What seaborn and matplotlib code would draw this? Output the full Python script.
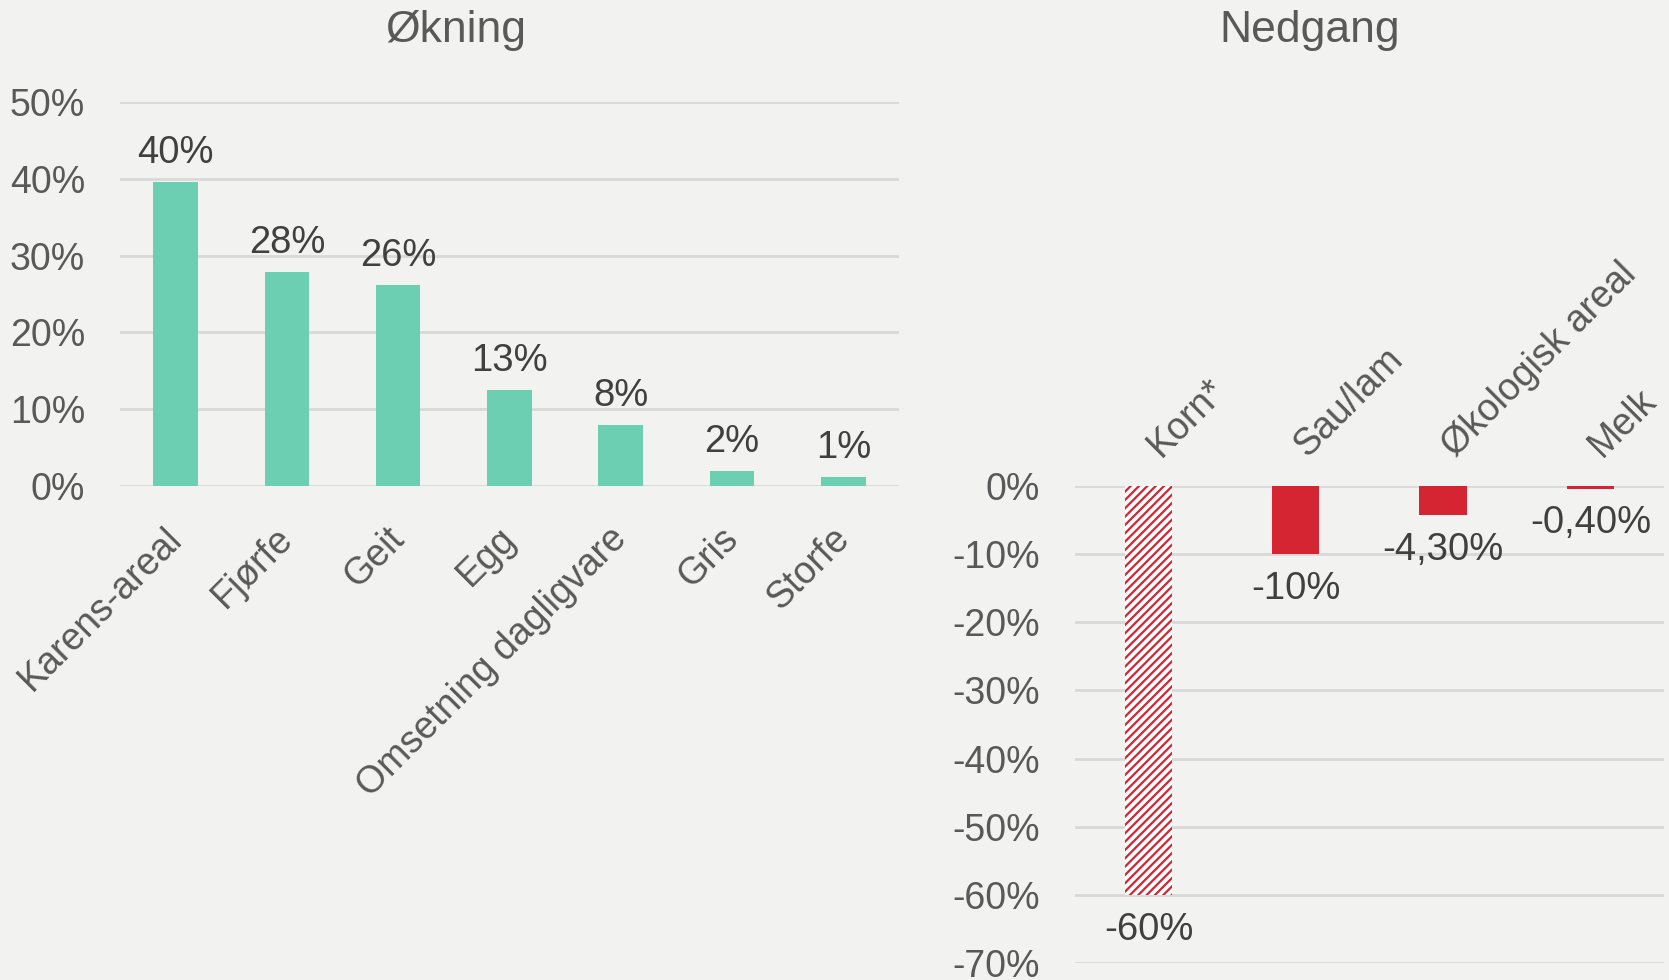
import matplotlib
matplotlib.use("Agg")
import matplotlib.pyplot as plt
import matplotlib.transforms as mtransforms
import seaborn as sns
import pandas as pd

# ---- data ----
inc_categories = ["Karens-areal", "Fjørfe", "Geit", "Egg", "Omsetning dagligvare", "Gris", "Storfe"]
inc_values = [39.6, 27.8, 26.2, 12.5, 7.9, 1.9, 1.2]
inc_labels = ["40%", "28%", "26%", "13%", "8%", "2%", "1%"]

dec_categories = ["Korn*", "Sau/lam", "Økologisk areal", "Melk"]
dec_values = [-60, -10, -4.3, -0.4]
dec_labels = ["-60%", "-10%", "-4,30%", "-0,40%"]

inc_ticks = [0, 10, 20, 30, 40, 50]
dec_ticks = [0, -10, -20, -30, -40, -50, -60, -70]

BG = "#F2F2F1"
TEAL = "#6DCFB1"
RED = "#D52432"
GRID = "#D9D9D9"
TICK = "#595959"
LAB = "#404040"

sns.set_theme(style="white")
plt.rcParams["font.family"] = ["Liberation Sans", "DejaVu Sans"]
plt.rcParams["hatch.linewidth"] = 1.6
plt.rcParams["hatch.color"] = RED

fig = plt.figure(figsize=(16.69, 9.8), dpi=100, facecolor=BG)
ax1 = fig.add_axes([0.0719, 0.504, 0.4667, 0.392])
ax2 = fig.add_axes([0.644, 0.0173, 0.353, 0.4867])
for ax in (ax1, ax2):
    ax.set_facecolor(BG)
    for s in ax.spines.values():
        s.set_visible(False)

df1 = pd.DataFrame({"cat": inc_categories, "val": inc_values})
sns.barplot(data=df1, x="cat", y="val", color=TEAL, width=0.4, ax=ax1, saturation=1,
            linewidth=0, zorder=3)
ax1.set_ylim(0, 50)
ax1.set_yticks(inc_ticks)
ax1.set_yticklabels([f"{t}%" for t in inc_ticks])
ax1.yaxis.grid(True, color=GRID, linewidth=2, zorder=0)
ax1.set_axisbelow(True)
ax1.set_xlabel("")
ax1.set_ylabel("")
ax1.tick_params(axis="y", labelsize=27, colors=TICK, length=0, pad=25)
ax1.tick_params(axis="x", labelsize=27, colors=TICK, length=0, pad=22)
off1 = mtransforms.ScaledTranslation(-12 / 100, -4 / 100, fig.dpi_scale_trans)
for lbl in ax1.get_xticklabels():
    lbl.set_rotation(45)
    lbl.set_ha("right")
    lbl.set_rotation_mode("anchor")
    lbl.set_transform(lbl.get_transform() + off1)
for p, t, v in zip(ax1.patches, inc_labels, inc_values):
    ax1.annotate(t, (p.get_x() + p.get_width() / 2, v),
                 xytext=(0, 8), textcoords="offset points", ha="center", va="bottom",
                 fontsize=27.5, color=LAB)

df2 = pd.DataFrame({"cat": dec_categories, "val": dec_values})
sns.barplot(data=df2, x="cat", y="val", color=RED, width=0.32, ax=ax2, saturation=1,
            linewidth=0, zorder=3)
ax2.set_ylim(-70, 0)
ax2.set_yticks(dec_ticks)
ax2.set_yticklabels([f"{t}%" for t in dec_ticks])
ax2.yaxis.grid(True, color=GRID, linewidth=2, zorder=0)
ax2.set_axisbelow(True)
ax2.set_xlabel("")
ax2.set_ylabel("")
ax2.xaxis.tick_top()
ax2.tick_params(axis="y", labelsize=27, colors=TICK, length=0, pad=25)
ax2.tick_params(axis="x", labelsize=27, colors=TICK, length=0, pad=20)
off2 = mtransforms.ScaledTranslation(12 / 100, 0, fig.dpi_scale_trans)
for lbl in ax2.get_xticklabels():
    lbl.set_rotation(45)
    lbl.set_ha("left")
    lbl.set_va("baseline")
    lbl.set_rotation_mode("anchor")
    lbl.set_transform(lbl.get_transform() + off2)
bars2 = list(ax2.patches)
bars2[0].set_facecolor("white")
bars2[0].set_edgecolor(RED)
bars2[0].set_linewidth(0)
bars2[0].set_hatch("////")
for p, t, v in zip(bars2, dec_labels, dec_values):
    ax2.annotate(t, (p.get_x() + p.get_width() / 2, v),
                 xytext=(0, -12), textcoords="offset points", ha="center", va="top",
                 fontsize=27.5, color=LAB)

fig.text(0.2732, 0.957, "Økning", ha="center", va="baseline", fontsize=32, color=TICK)
fig.text(0.785, 0.957, "Nedgang", ha="center", va="baseline", fontsize=32, color=TICK)

fig.savefig("out.png", dpi=100, facecolor=BG)
